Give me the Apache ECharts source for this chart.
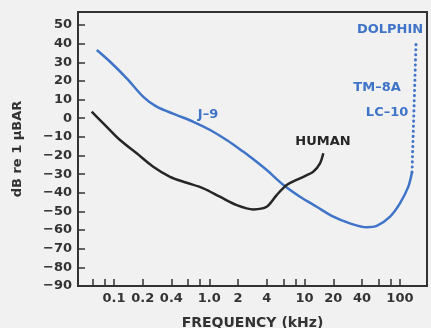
<!DOCTYPE html>
<html>
<head>
    <meta charset="utf-8">
    <title>Hearing thresholds: human and dolphin hydrophones</title>
    <script src="https://cdn.jsdelivr.net/npm/echarts@6/dist/echarts.min.js"></script>
    <style>
        html, body { margin: 0; padding: 0; background: #f1f1f1; }
        #main { width: 431px; height: 328px; }
    </style>
</head>
<body>
<div id="main"></div>
<script>
    // x axis is frequency in kHz (log), y axis is dB re 1 µbar
    var xTickValues = [0.06, 0.08, 0.1, 0.2, 0.4, 0.6, 0.8, 1, 2, 4, 6, 8, 10, 20, 40, 60, 80, 100];
    var xLabelValues = [0.1, 0.2, 0.4, 1, 2, 4, 10, 20, 40, 100];
    var xLabelText = ['0.1', '0.2', '0.4', '1.0', '2', '4', '10', '20', '40', '100'];
    var yTickValues = [-90, -80, -70, -60, -50, -40, -30, -20, -10, 0, 10, 20, 30, 40, 50];

    // J-9 (blue curve)
    var j9Freq = [0.066, 0.091, 0.136, 0.203, 0.28, 0.455, 0.68, 1.02, 1.52, 2.28, 2.67, 4.0, 6.0, 8.95, 13.4, 20, 29.9, 44.8, 57.1, 78.8, 100, 122.5, 134];
    var j9Db   = [36.6, 30.3, 21.4, 11.5, 6.2, 1.7, -1.9, -6.3, -11.7, -18, -20.6, -27.8, -35.8, -42.1, -47.5, -52.8, -56.4, -58.5, -57.8, -52.8, -45.7, -36.7, -28.9];

    // dolphin (dotted, continues the blue curve upward)
    var dolphinFreq = [134, 148];
    var dolphinDb   = [-28.9, 42];

    // human
    var humanFreq = [0.0583, 0.0772, 0.1156, 0.173, 0.258, 0.387, 0.579, 0.865, 1.29, 1.94, 2.9, 4.0, 5.09, 6.49, 8.95, 12.3, 14.5, 15.7];
    var humanDb   = [3.5, -2.7, -11.7, -18.8, -26, -31.4, -34.6, -37.6, -42.1, -46.6, -48.9, -47.5, -41.2, -35.8, -32.2, -28.7, -24.2, -18.8];

    // text notes inside the plot
    var noteText = ['J–9', 'HUMAN', 'DOLPHIN', 'TM–8A', 'LC–10'];
    var noteFreq = [0.97, 15.6, 78.7, 57.5, 73.3];
    var noteDb   = [1.7, -12.6, 47.3, 16.2, 2.8];

    var blue = '#3f74c8';
    var dark = '#262626';

    function pairs(xs, ys) {
        var out = [];
        for (var i = 0; i < xs.length; i++) out.push([xs[i], ys[i]]);
        return out;
    }

    var notes = [];
    for (var i = 0; i < noteText.length; i++) {
        notes.push({
            name: noteText[i],
            value: [noteFreq[i], noteDb[i]],
            label: { color: noteText[i] === 'HUMAN' ? dark : blue }
        });
    }

    function xLabel(v) {
        for (var i = 0; i < xLabelValues.length; i++) {
            if (Math.abs(Math.log10(v) - Math.log10(xLabelValues[i])) < 0.01) return xLabelText[i];
        }
        return '';
    }

    var myChart = echarts.init(document.getElementById('main'));
    myChart.setOption({
        backgroundColor: '#f1f1f1',
        animation: false,
        grid: {
            left: 78, right: 4, top: 12, bottom: 42,
            show: true, borderColor: '#333', borderWidth: 2,
            outerBoundsMode: 'none'
        },
        xAxis: {
            type: 'log',
            logBase: 10,
            min: 0.0419,
            max: 192.3,
            name: 'FREQUENCY (kHz)',
            nameLocation: 'middle',
            nameGap: 30,
            nameTextStyle: { fontFamily: 'DejaVu Sans', fontSize: 14, fontWeight: 'bold', color: '#333' },
            axisLine: { onZero: false, lineStyle: { color: '#333', width: 2 } },
            axisTick: { inside: true, length: 7, customValues: xTickValues, lineStyle: { color: '#333', width: 1.5 } },
            minorTick: { show: false },
            axisLabel: {
                customValues: xLabelValues,
                formatter: xLabel,
                margin: 6,
                fontFamily: 'DejaVu Sans', fontSize: 13, fontWeight: 'bold', color: '#333'
            },
            splitLine: { show: false }
        },
        yAxis: {
            type: 'value',
            min: -90,
            max: 57,
            name: 'dB re 1 µBAR',
            nameLocation: 'middle',
            nameGap: 54,
            nameTextStyle: { fontFamily: 'DejaVu Sans', fontSize: 13, fontWeight: 'bold', color: '#333' },
            axisLine: { show: true, lineStyle: { color: '#333', width: 2 } },
            axisTick: { show: true, inside: true, length: 7, customValues: yTickValues, lineStyle: { color: '#333', width: 1.5 } },
            axisLabel: {
                customValues: yTickValues,
                formatter: function (v) { return String(v).replace('-', '−'); },
                margin: 6,
                fontFamily: 'DejaVu Sans', fontSize: 13, fontWeight: 'bold', color: '#333'
            },
            splitLine: { show: false }
        },
        series: [
            {
                name: 'J-9',
                type: 'line',
                data: pairs(j9Freq, j9Db),
                smooth: 0.3,
                showSymbol: false,
                lineStyle: { color: blue, width: 2.5 }
            },
            {
                name: 'DOLPHIN',
                type: 'line',
                data: pairs(dolphinFreq, dolphinDb),
                showSymbol: false,
                lineStyle: { color: blue, width: 3, type: [0.1, 5], cap: 'round' }
            },
            {
                name: 'HUMAN',
                type: 'line',
                data: pairs(humanFreq, humanDb),
                smooth: 0.3,
                showSymbol: false,
                lineStyle: { color: dark, width: 2.5 }
            },
            {
                name: 'notes',
                type: 'scatter',
                data: notes,
                symbolSize: 1,
                itemStyle: { color: 'rgba(0,0,0,0)' },
                label: {
                    show: true,
                    position: 'inside',
                    formatter: function (p) { return p.name; },
                    textBorderWidth: 0,
                    opacity: 1,
                    fontFamily: 'DejaVu Sans', fontSize: 13, fontWeight: 'bold'
                }
            }
        ]
    });
</script>
</body>
</html>
